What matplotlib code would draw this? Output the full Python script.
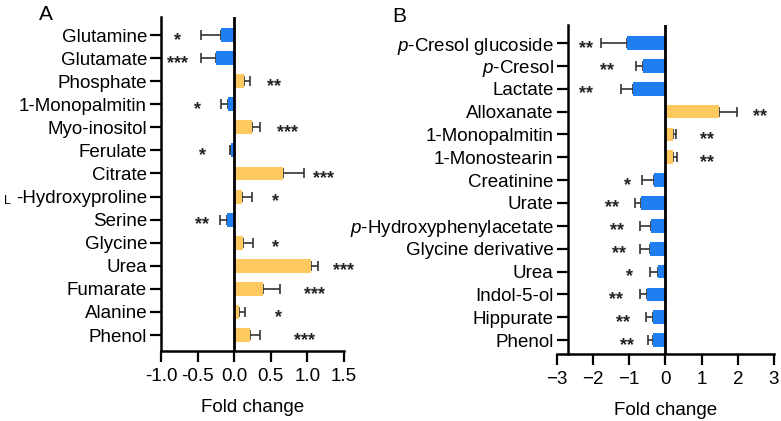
import numpy as np
import matplotlib
matplotlib.use('Agg')
import matplotlib.pyplot as plt
import matplotlib.transforms as mtransforms

plt.rcParams['font.family'] = ['Liberation Sans', 'DejaVu Sans']
plt.rcParams['mathtext.fontset'] = 'custom'
plt.rcParams['mathtext.rm'] = 'Liberation Sans'
plt.rcParams['mathtext.it'] = 'Liberation Sans:italic'

# panel A data
names_a = ['Glutamine', 'Glutamate', 'Phosphate', '1-Monopalmitin', 'Myo-inositol',
           'Ferulate', 'Citrate', '-Hydroxyproline', 'Serine', 'Glycine', 'Urea',
           'Fumarate', 'Alanine', 'Phenol']
fc_a = [-0.18, -0.25, 0.13, -0.08, 0.24, -0.04, 0.66, 0.10, -0.10, 0.12, 1.05, 0.40, 0.06, 0.21]
sem_a = [0.27, 0.20, 0.09, 0.10, 0.11, 0.02, 0.29, 0.14, 0.09, 0.13, 0.09, 0.23, 0.09, 0.14]
sig_a = ['*', '***', '**', '*', '***', '*', '***', '*', '**', '*', '***', '***', '*', '***']
sig_x_a = [-0.77, -0.78, 0.55, -0.5, 0.73, -0.43, 1.22, 0.57, -0.44, 0.57, 1.49, 1.1, 0.6, 0.96]
ticks_a = [-1.0, -0.5, 0.0, 0.5, 1.0, 1.5]

# panel B data
names_b = ['$p$-Cresol glucoside', '$p$-Cresol', 'Lactate', 'Alloxanate', '1-Monopalmitin',
           '1-Monostearin', 'Creatinine', 'Urate', '$p$-Hydroxyphenylacetate',
           'Glycine derivative', 'Urea', 'Indol-5-ol', 'Hippurate', 'Phenol']
fc_b = [-1.07, -0.63, -0.89, 1.47, 0.20, 0.22, -0.30, -0.68, -0.40, -0.42, -0.21, -0.50, -0.33, -0.33]
sem_b = [0.72, 0.18, 0.34, 0.51, 0.10, 0.11, 0.34, 0.16, 0.30, 0.27, 0.21, 0.19, 0.20, 0.14]
sig_b = ['**', '**', '**', '**', '**', '**', '*', '**', '**', '**', '*', '**', '**', '**']
sig_x_b = [-2.18, -1.6, -2.18, 2.6, 1.15, 1.15, -1.05, -1.47, -1.33, -1.27, -0.98, -1.37, -1.16, -1.07]
ticks_b = [-3, -2, -1, 0, 1, 2, 3]

BLUE = '#1f7ff2'
YELLOW = '#fdc85e'
W, H = 781, 421


def draw_panel(ax, names, fc, sem, sig, sig_x, ticks):
    fc = np.array(fc)
    sem = np.array(sem)
    y = np.arange(len(names))
    colors = [BLUE if v < 0 else YELLOW for v in fc]
    ax.barh(y, fc, height=0.6, color=colors, zorder=3)
    lower = np.where(fc < 0, sem, 0)
    upper = np.where(fc < 0, 0, sem)
    ax.errorbar(fc, y, xerr=[lower, upper], fmt='none', ecolor='#333333',
                elinewidth=1.2, capsize=3.5, capthick=1.2, zorder=2)
    ax.axvline(0, color='black', lw=2, zorder=4)
    for yy, s, sx in zip(y, sig, sig_x):
        ax.text(sx, yy + 0.42, s, ha='center', va='baseline', fontsize=13,
                fontweight='bold', color='#222222')
    ax.set_yticks(y)
    ax.set_yticklabels(names)
    ax.set_xticks(ticks)
    ax.tick_params(axis='x', labelsize=13.5, length=8, width=1.6, pad=4)
    ax.tick_params(axis='y', labelsize=13.5, length=8, width=1.6, pad=2)
    for side in ['top', 'right']:
        ax.spines[side].set_visible(False)
    for side in ['left', 'bottom']:
        ax.spines[side].set_linewidth(1.8)
    ax.set_xlabel('Fold change', fontsize=13.5, labelpad=10)


fig = plt.figure(figsize=(7.81, 4.21), dpi=100)

ax_a = fig.add_axes([161 / W, 1 - 351 / H, (344 - 161) / W, (351 - 17) / H])
draw_panel(ax_a, names_a, fc_a, sem_a, sig_a, sig_x_a, ticks_a)
ax_a.set_xlim(-1.0, 1.5)
ax_a.set_ylim(13.69, -0.78)
ax_a.xaxis.set_major_formatter(matplotlib.ticker.FormatStrFormatter('%.1f'))
# small-cap L in front of -Hydroxyproline
tr = mtransforms.blended_transform_factory(fig.transFigure, ax_a.transData)
ax_a.text(7 / W, 7.2, 'L', transform=tr, fontsize=9, ha='center', va='center')

ax_b = fig.add_axes([556.7 / W, 1 - 354 / H, (774 - 556.7) / W, (354 - 25) / H])
ax_b.spines['left'].set_position(('data', -2.7))
draw_panel(ax_b, names_b, fc_b, sem_b, sig_b, sig_x_b, ticks_b)
ax_b.set_xlim(-3, 3)
ax_b.set_ylim(13.61, -0.79)

fig.text(46 / W, 1 - 15 / H, 'A', fontsize=15, ha='center', va='center')
fig.text(399 / W, 1 - 16 / H, 'B', fontsize=15, ha='center', va='center')

fig.savefig('out.png', dpi=100)
